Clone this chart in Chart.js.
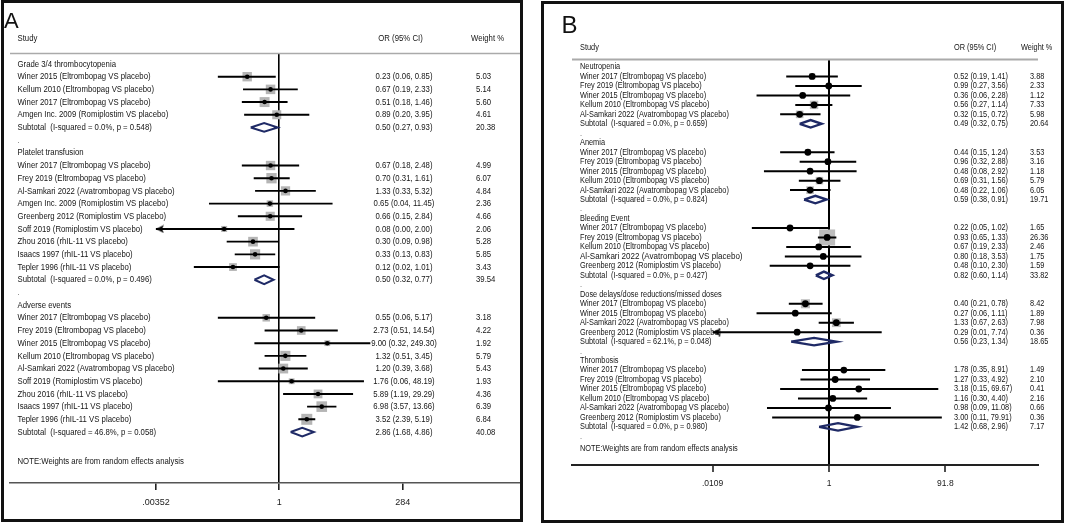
<!DOCTYPE html>
<html>
<head>
<meta charset="utf-8">
<script src="https://cdn.jsdelivr.net/npm/chart.js@4.4.1/dist/chart.umd.min.js"></script>
<style>
  html, body { margin: 0; padding: 0; background: #fff; }
  #wrap { position: relative; width: 1065px; height: 524px; overflow: hidden; }
  canvas { position: absolute; top: 0; }
  #cA { left: 0; }
  #cB { left: 532px; }
  .box { position: absolute; border: 3px solid #111; pointer-events: none; }
</style>
</head>
<body>
<div id="wrap">
  <canvas id="cA" width="532" height="524"></canvas>
  <canvas id="cB" width="533" height="524"></canvas>
  <div class="box" style="left:1px;top:0;width:516px;height:516px"></div>
  <div class="box" style="left:541px;top:1px;width:517px;height:516px"></div>
</div>
<script>
// ---- Panel A data ----
var aGroups = ['Grade 3/4 thrombocytopenia', 'Platelet transfusion', 'Adverse events'];
var aStudies = [
    ['Winer 2015 (Eltrombopag VS placebo)', 'Kellum 2010 (Eltrombopag VS placebo)', 'Winer 2017 (Eltrombopag VS placebo)', 'Amgen Inc. 2009 (Romiplostim VS placebo)'],
    ['Winer 2017 (Eltrombopag VS placebo)', 'Frey 2019 (Eltrombopag VS placebo)', 'Al-Samkari 2022 (Avatrombopag VS placebo)', 'Amgen Inc. 2009 (Romiplostim VS placebo)', 'Greenberg 2012 (Romiplostim VS placebo)', 'Soff 2019 (Romiplostim VS placebo)', 'Zhou 2016 (rhIL-11 VS placebo)', 'Isaacs 1997 (rhIL-11 VS placebo)', 'Tepler 1996 (rhIL-11 VS placebo)'],
    ['Winer 2017 (Eltrombopag VS placebo)', 'Frey 2019 (Eltrombopag VS placebo)', 'Winer 2015 (Eltrombopag VS placebo)', 'Kellum 2010 (Eltrombopag VS placebo)', 'Al-Samkari 2022 (Avatrombopag VS placebo)', 'Soff 2019 (Romiplostim VS placebo)', 'Zhou 2016 (rhIL-11 VS placebo)', 'Isaacs 1997 (rhIL-11 VS placebo)', 'Tepler 1996 (rhIL-11 VS placebo)']
];
var aOR = [[0.23, 0.67, 0.51, 0.89], [0.67, 0.70, 1.33, 0.65, 0.66, 0.08, 0.30, 0.33, 0.12], [0.55, 2.73, 9.00, 1.32, 1.20, 1.76, 5.89, 6.98, 3.52]];
var aLow = [[0.06, 0.19, 0.18, 0.20], [0.18, 0.31, 0.33, 0.04, 0.15, 0.00, 0.09, 0.13, 0.02], [0.06, 0.51, 0.32, 0.51, 0.39, 0.06, 1.19, 3.57, 2.39]];
var aHigh = [[0.85, 2.33, 1.46, 3.95], [2.48, 1.61, 5.32, 11.45, 2.84, 2.00, 0.98, 0.83, 1.01], [5.17, 14.54, 249.30, 3.45, 3.68, 48.19, 29.29, 13.66, 5.19]];
var aWeight = [[5.03, 5.14, 5.60, 4.61], [4.99, 6.07, 4.84, 2.36, 4.66, 2.06, 5.28, 5.85, 3.43], [3.18, 4.22, 1.92, 5.79, 5.43, 1.93, 4.36, 6.39, 6.84]];
var aSubLabel = ['Subtotal  (I-squared = 0.0%, p = 0.548)', 'Subtotal  (I-squared = 0.0%, p = 0.496)', 'Subtotal  (I-squared = 46.8%, p = 0.058)'];
var aSubOR = [0.50, 0.50, 2.86];
var aSubLow = [0.27, 0.32, 1.68];
var aSubHigh = [0.93, 0.77, 4.86];
var aSubWeight = [20.38, 39.54, 40.08];
var aTicks = [0.00352, 1, 284];
var aTickLabels = ['.00352', '1', '284'];

// ---- Panel B data ----
var bGroups = ['Neutropenia', 'Anemia', 'Bleeding Event', 'Dose delays/dose reductions/missed doses', 'Thrombosis'];
var bStudies = [
    ['Winer 2017 (Eltrombopag VS placebo)', 'Frey 2019 (Eltrombopag VS placebo)', 'Winer 2015 (Eltrombopag VS placebo)', 'Kellum 2010 (Eltrombopag VS placebo)', 'Al-Samkari 2022 (Avatrombopag VS placebo)'],
    ['Winer 2017 (Eltrombopag VS placebo)', 'Frey 2019 (Eltrombopag VS placebo)', 'Winer 2015 (Eltrombopag VS placebo)', 'Kellum 2010 (Eltrombopag VS placebo)', 'Al-Samkari 2022 (Avatrombopag VS placebo)'],
    ['Winer 2017 (Eltrombopag VS placebo)', 'Frey 2019 (Eltrombopag VS placebo)', 'Kellum 2010 (Eltrombopag VS placebo)', 'Al-Samkari 2022 (Avatrombopag VS placebo)', 'Greenberg 2012 (Romiplostim VS placebo)'],
    ['Winer 2017 (Eltrombopag VS placebo)', 'Winer 2015 (Eltrombopag VS placebo)', 'Al-Samkari 2022 (Avatrombopag VS placebo)', 'Greenberg 2012 (Romiplostim VS placebo)'],
    ['Winer 2017 (Eltrombopag VS placebo)', 'Frey 2019 (Eltrombopag VS placebo)', 'Winer 2015 (Eltrombopag VS placebo)', 'Kellum 2010 (Eltrombopag VS placebo)', 'Al-Samkari 2022 (Avatrombopag VS placebo)', 'Greenberg 2012 (Romiplostim VS placebo)']
];
var bOR = [[0.52, 0.99, 0.36, 0.56, 0.32], [0.44, 0.96, 0.48, 0.69, 0.48], [0.22, 0.93, 0.67, 0.80, 0.48], [0.40, 0.27, 1.33, 0.29], [1.78, 1.27, 3.18, 1.16, 0.98, 3.00]];
var bLow = [[0.19, 0.27, 0.06, 0.27, 0.15], [0.15, 0.32, 0.08, 0.31, 0.22], [0.05, 0.65, 0.19, 0.18, 0.10], [0.21, 0.06, 0.67, 0.01], [0.35, 0.33, 0.15, 0.30, 0.09, 0.11]];
var bHigh = [[1.41, 3.56, 2.28, 1.14, 0.72], [1.24, 2.88, 2.92, 1.56, 1.06], [1.02, 1.33, 2.33, 3.53, 2.30], [0.78, 1.11, 2.63, 7.74], [8.91, 4.92, 69.67, 4.40, 11.08, 79.91]];
var bWeight = [[3.88, 2.33, 1.12, 7.33, 5.98], [3.53, 3.16, 1.18, 5.79, 6.05], [1.65, 26.36, 2.46, 1.75, 1.59], [8.42, 1.89, 7.98, 0.36], [1.49, 2.10, 0.41, 2.16, 0.66, 0.36]];
var bSubLabel = ['Subtotal  (I-squared = 0.0%, p = 0.659)', 'Subtotal  (I-squared = 0.0%, p = 0.824)', 'Subtotal  (I-squared = 0.0%, p = 0.427)', 'Subtotal  (I-squared = 62.1%, p = 0.048)', 'Subtotal  (I-squared = 0.0%, p = 0.980)'];
var bSubOR = [0.49, 0.59, 0.82, 0.56, 1.42];
var bSubLow = [0.32, 0.38, 0.60, 0.23, 0.68];
var bSubHigh = [0.75, 0.91, 1.14, 1.34, 2.96];
var bSubWeight = [20.64, 19.71, 33.82, 18.65, 7.17];
var bTicks = [0.0109, 1, 91.8];
var bTickLabels = ['.0109', '1', '91.8'];

var noteText = 'NOTE:Weights are from random effects analysis';

// layout of each panel (canvas pixels)
var layoutA = {
    letter: 'A', letterX: 4, letterY: 21.5, letterSize: 22,
    left: 10, right: 520, x1: 279.3, ppd: 50.3, top: 54, axisY: 483, H: 524, W: 532,
    rowY0: 64, rowStep: 12.69, font: 9.6, sx: 0.81,
    labelX: 17.5, orX: 404, orAlign: 'center', orBg: true, wX: 476,
    headY: 38.5, orHeadX: 400.5, orHeadAlign: 'center', wHeadX: 471, headLineY: 53.5, headLineW: 1.5,
    noteY: 461, tickFont: 9, tickPad: 7,
    sqK: 4.2, sqColor: '#b5b5b5', dotR: 2.3, ciW: 1.9, dh: 0.34, diaW: 2,
    refW: 1.6, axisColor: '#555', axisW: 1.5, trailingDot: false, big: null
};
var layoutB = {
    letter: 'B', letterX: 29.5, letterY: 26, letterSize: 24,
    left: 40, right: 506, x1: 297, ppd: 59.3, top: 60, axisY: 465, H: 524, W: 533,
    rowY0: 67, rowStep: 9.47, font: 8.9, sx: 0.83,
    labelX: 48, orX: 422, orAlign: 'left', orBg: false, wX: 498,
    headY: 48, orHeadX: 422, orHeadAlign: 'left', wHeadX: 489, headLineY: 59.5, headLineW: 2,
    noteY: 449, tickFont: 8.5, tickPad: 7,
    sqK: 3.12, sqColor: '#bdbdbd', dotR: 3.4, ciW: 2, dh: 0.39, diaW: 2.4,
    refW: 2, axisColor: '#222', axisW: 2, trailingDot: true, big: { g: 2, s: 3, size: 9.7 }
};

function f2(v) { return v.toFixed(2); }

function buildRows(groups, studies, or, lo, hi, wt, subLabel, subOr, subLo, subHi, subWt, trailingDot) {
    var rows = [];
    var r = 0;
    groups.forEach(function (g, gi) {
        rows.push({ kind: 'head', text: g, y: r++ });
        studies[gi].forEach(function (s, si) {
            rows.push({ kind: 'study', text: s, or: or[gi][si], lo: lo[gi][si], hi: hi[gi][si], w: wt[gi][si], y: r++, g: gi, s: si });
        });
        rows.push({ kind: 'sub', text: subLabel[gi], or: subOr[gi], lo: subLo[gi], hi: subHi[gi], w: subWt[gi], y: r++ });
        if (gi < groups.length - 1 || trailingDot) {
            rows.push({ kind: 'dot', text: '.', y: r++ });
        }
    });
    return rows;
}

function drawText(ctx, s, x, y, size, sx, align, color, bg) {
    ctx.save();
    ctx.font = size + 'px "Liberation Sans", Arial, sans-serif';
    ctx.textBaseline = 'middle';
    ctx.textAlign = align || 'left';
    ctx.translate(x, y);
    ctx.scale(sx, 1);
    if (bg) {
        var w = ctx.measureText(s).width;
        var x0 = align === 'center' ? -w / 2 : 0;
        ctx.fillStyle = '#fff';
        ctx.fillRect(x0 - 1, -size * 0.6, w + 2, size * 1.2);
    }
    ctx.fillStyle = color || '#151515';
    ctx.fillText(s, 0, 0);
    ctx.restore();
}

// arrow head with its tip at the image centre, pointing left
var arrowImg = document.createElement('canvas');
arrowImg.width = 18;
arrowImg.height = 9;
(function () {
    var c = arrowImg.getContext('2d');
    c.fillStyle = '#000';
    c.beginPath();
    c.moveTo(9, 4.5);
    c.lineTo(17, 0.5);
    c.lineTo(15, 4.5);
    c.lineTo(17, 8.5);
    c.closePath();
    c.fill();
})();

function makeChart(id, rows, ticks, tickLabels, L) {
    var xMin = ticks[0], xMax = ticks[ticks.length - 1];
    var ci = [], arrows = [], squares = [], dots = [], diamonds = [];
    rows.forEach(function (r) {
        if (r.kind === 'study') {
            ci.push({ x: Math.max(r.lo, xMin), y: r.y }, { x: Math.min(r.hi, xMax), y: r.y }, { x: null, y: null });
            if (r.lo < xMin) arrows.push({ x: xMin, y: r.y, dir: 'left' });
            if (r.hi > xMax) arrows.push({ x: xMax, y: r.y, dir: 'right' });
            squares.push({ x: r.or, y: r.y, w: r.w });
            dots.push({ x: r.or, y: r.y });
        } else if (r.kind === 'sub') {
            diamonds.push({ x: r.lo, y: r.y }, { x: r.or, y: r.y - L.dh }, { x: r.hi, y: r.y },
                { x: r.or, y: r.y + L.dh }, { x: r.lo, y: r.y }, { x: null, y: null });
        }
    });

    var textPlugin = {
        id: 'forestText',
        beforeDatasetsDraw: function (chart) {
            var ctx = chart.ctx, ca = chart.chartArea, ys = chart.scales.y;
            ctx.save();
            ctx.strokeStyle = '#aaaaaa';
            ctx.lineWidth = L.headLineW;
            ctx.beginPath();
            ctx.moveTo(ca.left, L.headLineY);
            ctx.lineTo(ca.right, L.headLineY);
            ctx.stroke();
            ctx.restore();
            drawText(ctx, L.letter, L.letterX, L.letterY, L.letterSize, 1, 'left', '#111');
            drawText(ctx, 'Study', L.labelX, L.headY, L.font, L.sx, 'left');
            drawText(ctx, 'OR (95% CI)', L.orHeadX, L.headY, L.font, L.sx, L.orHeadAlign);
            drawText(ctx, 'Weight %', L.wHeadX, L.headY, L.font, L.sx, 'left');
            rows.forEach(function (r) {
                var y = ys.getPixelForValue(r.y);
                var size = L.font;
                if (L.big && r.kind === 'study' && r.g === L.big.g && r.s === L.big.s) size = L.big.size;
                drawText(ctx, r.text, L.labelX, y, size, L.sx, 'left', r.kind === 'dot' ? '#777' : '#151515');
            });
            drawText(ctx, noteText, L.labelX, L.noteY, L.font, L.sx, 'left');
        },
        afterDatasetsDraw: function (chart) {
            var ctx = chart.ctx, ys = chart.scales.y;
            rows.forEach(function (r) {
                if (r.kind !== 'study' && r.kind !== 'sub') return;
                var y = ys.getPixelForValue(r.y);
                drawText(ctx, f2(r.or) + ' (' + f2(r.lo) + ', ' + f2(r.hi) + ')', L.orX, y, L.font, L.sx, L.orAlign, '#151515', L.orBg);
                drawText(ctx, f2(r.w), L.wX, y, L.font, L.sx, 'left');
            });
        }
    };

    var yMin = (L.top - L.rowY0) / L.rowStep;
    var yMax = (L.axisY - L.rowY0) / L.rowStep;

    return new Chart(document.getElementById(id).getContext('2d'), {
        type: 'scatter',
        data: {
            datasets: [
                { data: dots, order: 1, pointStyle: 'circle', pointRadius: L.dotR, backgroundColor: '#000', borderWidth: 0 },
                { data: diamonds, order: 2, showLine: true, pointRadius: 0, borderColor: '#1f2a66', borderWidth: L.diaW, fill: false, borderJoinStyle: 'miter' },
                { data: arrows, order: 3, pointStyle: arrowImg, rotation: function (c) { return c.raw && c.raw.dir === 'right' ? 180 : 0; } },
                { data: ci, order: 4, showLine: true, pointRadius: 0, borderColor: '#000', borderWidth: L.ciW, fill: false },
                {
                    data: squares, order: 5, pointStyle: 'rect', backgroundColor: L.sqColor, borderWidth: 0,
                    pointRadius: function (c) { return c.raw ? L.sqK * Math.sqrt(c.raw.w) / Math.SQRT2 : 0; }
                }
            ]
        },
        options: {
            responsive: false,
            animation: false,
            events: [],
            layout: { padding: { left: L.left, right: L.W - L.right, top: L.top, bottom: 0 } },
            plugins: { legend: { display: false }, tooltip: { enabled: false } },
            scales: {
                x: {
                    type: 'logarithmic',
                    bounds: 'data',
                    min: Math.pow(10, (L.left - L.x1) / L.ppd),
                    max: Math.pow(10, (L.right - L.x1) / L.ppd),
                    afterBuildTicks: function (s) { s.ticks = ticks.map(function (v) { return { value: v }; }); },
                    afterFit: function (s) { s.height = L.H - L.axisY; },
                    ticks: {
                        autoSkip: false, maxRotation: 0, padding: L.tickPad, color: '#1a1a1a',
                        font: { family: '"Liberation Sans", Arial, sans-serif', size: L.tickFont },
                        callback: function (v, i) { return tickLabels[i]; }
                    },
                    grid: {
                        drawOnChartArea: true, tickLength: 7,
                        color: function (c) { return c.tick && c.tick.value === 1 ? '#000' : 'rgba(0,0,0,0)'; },
                        lineWidth: L.refW, tickColor: '#222', tickWidth: 1.6
                    },
                    border: { display: true, color: L.axisColor, width: L.axisW }
                },
                y: { type: 'linear', reverse: true, min: yMin, max: yMax, display: false }
            }
        },
        plugins: [textPlugin]
    });
}

var rowsA = buildRows(aGroups, aStudies, aOR, aLow, aHigh, aWeight, aSubLabel, aSubOR, aSubLow, aSubHigh, aSubWeight, layoutA.trailingDot);
var rowsB = buildRows(bGroups, bStudies, bOR, bLow, bHigh, bWeight, bSubLabel, bSubOR, bSubLow, bSubHigh, bSubWeight, layoutB.trailingDot);
window.chartA = makeChart('cA', rowsA, aTicks, aTickLabels, layoutA);
window.chartB = makeChart('cB', rowsB, bTicks, bTickLabels, layoutB);
</script>
</body>
</html>
